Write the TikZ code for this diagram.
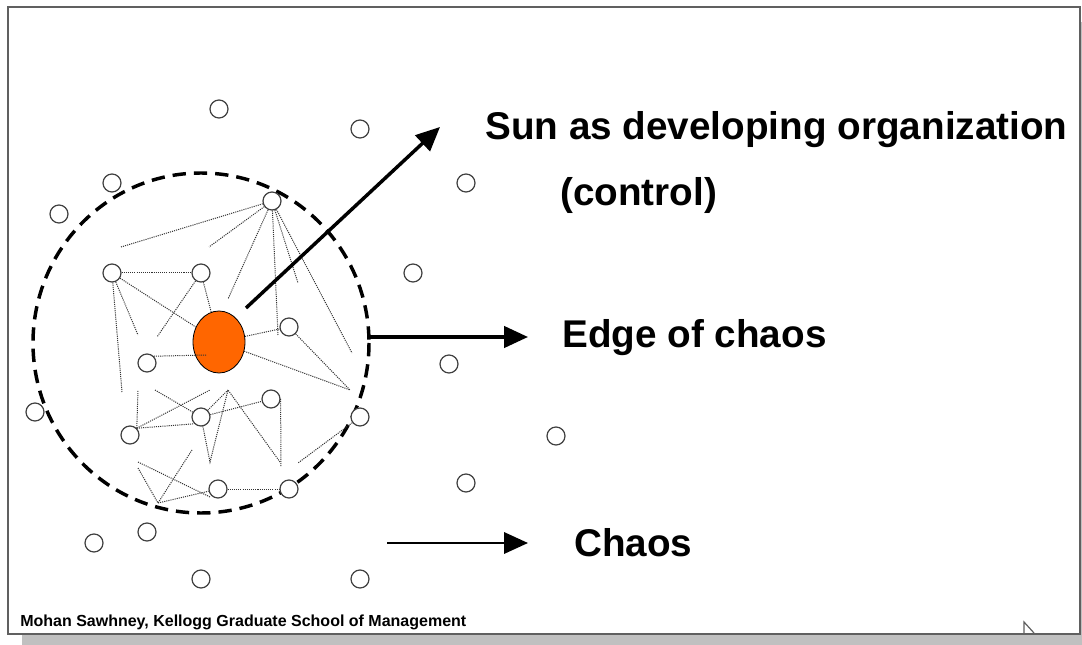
\documentclass[tikz,border=0pt]{standalone}
\usepackage{fontspec}
\setmainfont{Liberation Sans}
\usetikzlibrary{arrows.meta,shapes.geometric}

\definecolor{sunorange}{HTML}{FF6600}
\definecolor{framegray}{HTML}{606060}
\definecolor{shadowgray}{HTML}{C0C0C0}

\tikzset{
  dot/.style={circle, draw=black!75, line width=0.9pt, fill=white,
    minimum size=13.5pt, inner sep=0pt},
  sun/.style={ellipse, draw=black, line width=0.6pt, fill=sunorange,
    minimum width=39pt, minimum height=46.5pt, inner sep=0pt},
  link/.style={black!80, line width=0.75pt, dash pattern=on 0.8pt off 0.8pt},
  pointer/.style={line width=2.6pt, -{Triangle[length=18pt,width=16pt]}},
  bigtext/.style={anchor=base west, inner sep=0pt,
    font=\fontsize{29}{34}\selectfont\bfseries},
}

\begin{document}
\begin{tikzpicture}[x=0.75pt,y=-0.75pt]
    \useasboundingbox (0,0) rectangle (1082,645);

    % Frame
    \fill[shadowgray] (22,634) rectangle (1082,645);
    \fill[shadowgray] (1080,22) rectangle (1082,634);
    \draw[framegray, line width=1.5pt] (8,7) rectangle (1080,634);

    % Edge of chaos
    \draw[line width=2.6pt, dash pattern=on 10pt off 6pt] (201,343) ellipse [x radius=168, y radius=170];

    % Vertices
    \node[sun] (sun) at (219,342) {};
    \node[dot] (n1) at (272,201) {};
    \node[dot] (n2) at (112,273) {};
    \node[dot] (n3) at (201,273) {};
    \node[dot] (n4) at (289,327) {};
    \node[dot] (n5) at (147,363) {};
    \node[dot] (n6) at (130,435) {};
    \node[dot] (n7) at (201,417) {};
    \node[dot] (n8) at (271,399) {};
    \node[dot] (n9) at (360,417) {};
    \node[dot] (n10) at (218,489) {};
    \node[dot] (n11) at (289,489) {};

    % Vertices (chaos)
    \node[dot] (o1) at (219,109) {};
    \node[dot] (o2) at (360,129) {};
    \node[dot] (o3) at (112,183) {};
    \node[dot] (o4) at (59,214) {};
    \node[dot] (o5) at (466,183) {};
    \node[dot] (o6) at (413,273) {};
    \node[dot] (o7) at (449,364) {};
    \node[dot] (o8) at (35,412) {};
    \node[dot] (o9) at (556,436) {};
    \node[dot] (o10) at (466,483) {};
    \node[dot] (o11) at (94,543) {};
    \node[dot] (o12) at (147,532) {};
    \node[dot] (o13) at (201,579) {};
    \node[dot] (o14) at (360,579) {};

    % Loose ends
    \coordinate (a1) at (121,247);
    \coordinate (a2) at (209,247);
    \coordinate (a3) at (228,299);
    \coordinate (a4) at (278,335);
    \coordinate (a5) at (298,283);
    \coordinate (a6) at (352,353);
    \coordinate (b1) at (138,335);
    \coordinate (b2) at (122,392);
    \coordinate (b3) at (157,337);
    \coordinate (c1) at (207,355);
    \coordinate (c3) at (350,390);
    \coordinate (d1) at (138,390);
    \coordinate (d2) at (210,390);
    \coordinate (d3) at (155,390);
    \coordinate (d4) at (210,462);
    \coordinate (d5) at (228,390);
    \coordinate (d6) at (280,462);
    \coordinate (d7) at (281,467);
    \coordinate (e1) at (298,463);
    \coordinate (e2) at (138,462);
    \coordinate (e3) at (210,497);
    \coordinate (e4) at (138,468);
    \coordinate (e5) at (158,503);
    \coordinate (e6) at (192,450);

    % Edges
    \draw[link] (n1) -- (a1);
    \draw[link] (n1) -- (a2);
    \draw[link] (n1) -- (a3);
    \draw[link] (n1) -- (a4);
    \draw[link] (n1) -- (a5);
    \draw[link] (n1) -- (a6);
    \draw[link] (n2) -- (n3);
    \draw[link] (n2) -- (sun);
    \draw[link] (n2) -- (b1);
    \draw[link] (n2) -- (b2);
    \draw[link] (n3) -- (b3);
    \draw[link] (n3) -- (sun);
    \draw[link] (n5.north east) -- (c1);
    \draw[link] (sun) -- (n4);
    \draw[link] (sun) -- (c3);
    \draw[link] (n4) -- (c3);
    \draw[link] (n6.north east) -- (d1);
    \draw[link] (n6.north east) -- (d2);
    \draw[link] (n6.north east) -- (n7.south west);
    \draw[link] (d3) -- (n7);
    \draw[link] (n7) -- (d4) -- (d5) -- (d6);
    \draw[link] (n7) -- (d5);
    \draw[link] (n7) -- (n8);
    \draw[link] (n8.east) -- (d7);
    \draw[link] (n9) -- (e1);
    \draw[link] (e2) -- (e3);
    \draw[link] (e4) -- (e5) -- (e6);
    \draw[link] (e5) -- (n10);
    \draw[link] (n10) -- (n11);

    % Labels
    \node[bigtext] (t1) at (485,140) {Sun as developing organization};
    \node[bigtext] (t2) at (560,206) {(control)};
    \node[bigtext] (t3) at (562,348) {Edge of chaos};
    \node[bigtext] (t4) at (574,556) {Chaos};
    \node[anchor=base west, inner sep=0pt, font=\fontsize{12}{14}\selectfont\bfseries] (src) at (20,626)
      {Mohan Sawhney, Kellogg Graduate School of Management};

    % Arrows
    \coordinate (p1) at (246,308);
    \coordinate (q1) at (440,127);
    \coordinate (p2) at (370,337);
    \coordinate (q2) at (528,337);
    \coordinate (p3) at (387,543);
    \coordinate (q3) at (528,543);
    \draw[pointer] (p1) -- (q1);
    \draw[pointer] (p2) -- (q2);
    \draw[pointer, line width=1.8pt] (p3) -- (q3);

    % Cursor
    \draw[framegray, line width=0.9pt] (1024,634) -- (1024,622) -- (1034,633);
\end{tikzpicture}
\end{document}
